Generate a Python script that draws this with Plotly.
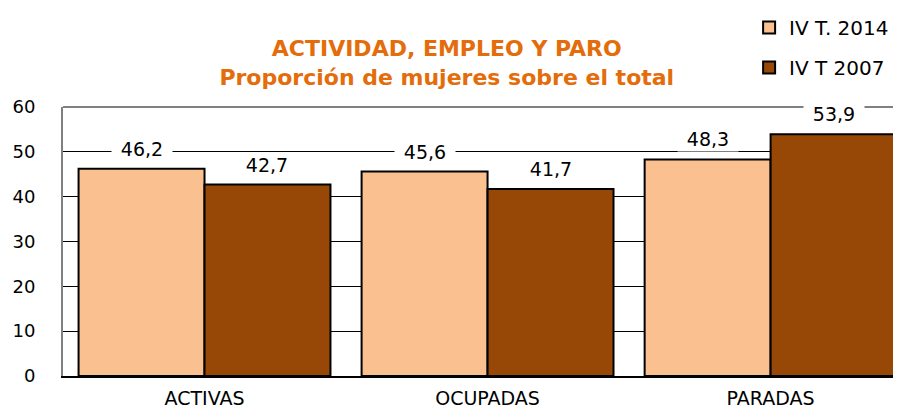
import plotly.graph_objects as go

categories = ["ACTIVAS", "OCUPADAS", "PARADAS"]
series_names = ["IV T. 2014", "IV T 2007"]
values_2014 = [46.2, 45.6, 48.3]
values_2007 = [42.7, 41.7, 53.9]
colors = ["#FAC090", "#974806"]
title_lines = ["ACTIVIDAD, EMPLEO Y PARO", "Proporción de mujeres sobre el total"]

FONT = "DejaVu Sans"
bargap = 0.11
series = [values_2014, values_2007]

fig = go.Figure()
for i, (name, vals) in enumerate(zip(series_names, series)):
    fig.add_trace(go.Bar(
        x=list(range(len(categories))), y=vals, name=name,
        marker=dict(color=colors[i], line=dict(color="black", width=2)),
        legendgroup=name,
    ))

# data labels with white background
bw = (1 - bargap) / len(series)
annotations = []
for i, vals in enumerate(series):
    off = -(1 - bargap) / 2 + bw * (i + 0.5)
    for j, v in enumerate(vals):
        annotations.append(dict(
            x=j + off, y=v, xref="x", yref="y", text=f"{v:.1f}".replace(".", ","),
            showarrow=False, yanchor="bottom", yshift=7, bgcolor="white",
            width=58, borderpad=1, font=dict(family=FONT, size=19, color="black"),
        ))

fig.update_layout(
    width=901, height=412,
    margin=dict(l=55, r=0, t=99, b=44),
    paper_bgcolor="white", plot_bgcolor="white",
    barmode="group", bargap=bargap, bargroupgap=0,
    title=dict(text="<b>" + title_lines[0] + "<br>" + title_lines[1] + "</b>",
               x=0.487, xref="container", xanchor="center",
               y=1 - 48 / 412, yref="container", yanchor="top",
               font=dict(family=FONT, size=22, color="#E46C0A")),
    legend=dict(x=0.811, y=1.014, xref="paper", yref="container", xanchor="left", yanchor="top",
                font=dict(family=FONT, size=20, color="black"),
                tracegroupgap=11, itemwidth=30, traceorder="grouped"),
    annotations=annotations,
    font=dict(family=FONT, color="black"),
    shapes=[dict(type="line", xref="paper", yref="paper", x0=0, x1=1, y0=1, y1=1,
                 line=dict(color="#808080", width=2), layer="below")],
)
fig.update_xaxes(
    type="linear", range=[-0.5, 2.489], tickmode="array",
    tickvals=list(range(len(categories))), ticktext=categories,
    showgrid=False, showline=True, linecolor="black", linewidth=2, zeroline=False,
    tickfont=dict(family=FONT, size=19, color="black"), ticks="", ticklabelstandoff=4,
)
fig.update_yaxes(
    range=[0, 60], dtick=10, showgrid=True, gridcolor="black", gridwidth=1,
    showline=True, linecolor="#808080", linewidth=2, zeroline=False,
    tickfont=dict(family=FONT, size=18, color="black"), ticks="", ticklabelstandoff=22,
)
fig.write_html("out.html")
